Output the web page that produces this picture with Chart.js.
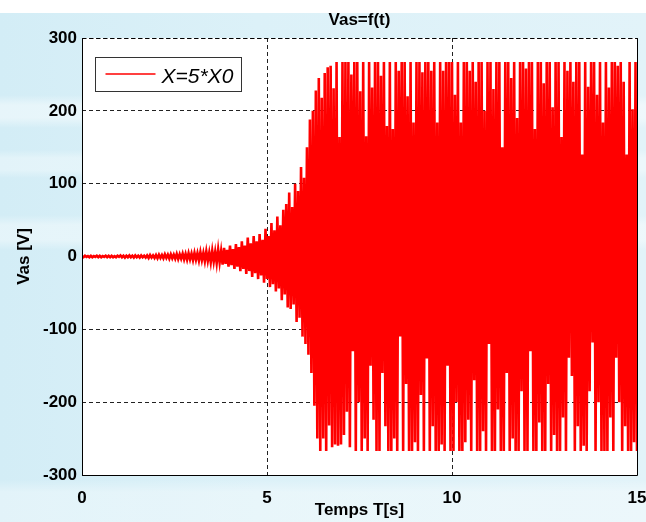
<!DOCTYPE html>
<html>
<head>
<meta charset="utf-8">
<script src="https://cdn.jsdelivr.net/npm/chart.js@4.4.1/dist/chart.umd.min.js"></script>
<style>
  html, body { margin: 0; padding: 0; }
  body {
    width: 646px; height: 522px; overflow: hidden;
    background:
      linear-gradient(to bottom, #ffffff 0, #ffffff 13px, rgba(255,255,255,0) 13px),
      linear-gradient(to bottom, rgba(255,255,255,0) 95px, rgba(255,255,255,0.45) 105px, rgba(255,255,255,0.45) 118px, rgba(255,255,255,0) 128px,
                      rgba(255,255,255,0) 150px, rgba(255,255,255,0.35) 158px, rgba(255,255,255,0.35) 170px, rgba(255,255,255,0) 178px,
                      rgba(255,255,255,0) 215px, rgba(255,255,255,0.4) 225px, rgba(255,255,255,0.4) 240px, rgba(255,255,255,0) 250px,
                      rgba(255,255,255,0) 480px, rgba(255,255,255,0.35) 492px, rgba(255,255,255,0.35) 522px),
      linear-gradient(to right, #d3edf6 0, #dcf1f8 40%, #e2f3f9 100%);
  }
  #wrap { position: relative; width: 646px; height: 522px; }
  canvas { display: block; }
</style>
</head>
<body>
<div id="wrap"><canvas id="vas" width="646" height="522"></canvas></div>
<script>
// Stator voltage Vas over time, X = 5*X0.
// Samples alternate between a positive peak and a negative peak, every sampleStep seconds.
const sampleStep = 0.04; // s
const seriesLabel = 'X=5*X0';

// positive peaks (t = 0, 0.08, 0.16, ...)
const upperPeaks = [
  0, 1, 0.5, 1, 0.5, 1, 1, 0.5, 1, 1,
  1, 0.5, 1, 1.5, 1, 1, 1.5, 1, 1.5, 1,
  1.5, 1, 1.5, 2, 1.5, 2, 2.5, 2, 3, 2.5,
  3, 2.5, 3.5, 3, 4, 3.5, 4.5, 4, 5, 4.5,
  6, 5, 7, 5.5, 8, 6.5, 9.5, 7.5, 12, 9,
  15, 10, 17, 13, 21, 15, 26, 18, 28, 21,
  31, 23, 38, 28, 46, 36, 55, 43, 64, 72,
  88, 68, 100, 90, 123, 108, 150, 188, 200, 228,
  245, 218, 252, 260, 262, 231, 267, 164, 267, 267,
  267, 250, 267, 267, 227, 267, 165, 267, 232, 267,
  267, 248, 267, 179, 267, 175, 267, 255, 267, 267,
  220, 267, 184, 267, 267, 253, 267, 267, 255, 267,
  184, 267, 255, 267, 267, 267, 222, 267, 184, 267,
  267, 255, 267, 240, 267, 267, 200, 267, 267, 230,
  267, 267, 150, 267, 267, 245, 267, 190, 267, 267,
  258, 267, 267, 175, 267, 267, 238, 267, 267, 205,
  267, 267, 164, 267, 255, 267, 240, 267, 267, 140,
  267, 233, 267, 267, 222, 267, 184, 267, 232, 267,
  267, 262, 267, 240, 140, 267, 202, 267
];

// negative peaks (t = 0.04, 0.12, 0.20, ...)
const lowerPeaks = [
  -1, -0.5, -1, -1, -0.5, -1, -1, -0.5, -1, -1,
  -1, -1, -0.5, -1, -1.5, -1, -1, -1.5, -1, -1.5,
  -1, -1.5, -2, -1.5, -2, -2.5, -2, -2.5, -2, -3,
  -2.5, -3, -3.5, -3, -4, -4.5, -4, -5, -4.5, -5.5,
  -5, -6.5, -6, -8, -7, -9, -8, -11, -10, -14,
  -12, -17, -14, -20, -17, -24, -20, -28, -23, -31,
  -26, -36, -31, -42, -38, -48, -44, -60, -52, -70,
  -72, -66, -90, -84, -110, -120, -135, -160, -205, -250,
  -267, -250, -267, -232, -262, -258, -260, -258, -245, -213,
  -262, -130, -267, -200, -267, -250, -267, -150, -224, -267,
  -267, -160, -233, -267, -267, -250, -267, -110, -267, -175,
  -267, -267, -255, -267, -190, -267, -140, -267, -233, -267,
  -267, -258, -267, -150, -267, -267, -200, -267, -267, -255,
  -224, -267, -170, -267, -267, -240, -267, -120, -267, -267,
  -210, -267, -267, -160, -267, -250, -267, -267, -185, -267,
  -267, -130, -267, -267, -228, -267, -267, -175, -267, -245,
  -267, -267, -221, -267, -139, -164, -267, -233, -267, -260,
  -267, -185, -118, -267, -200, -267, -267, -267, -221, -267,
  -139, -200, -267, -233, -267, -267, -255, -267
];

const xTickValues = [0, 5, 10, 15];
const yTickValues = [-300, -200, -100, 0, 100, 200, 300];

const chartTitle = 'Vas=f(t)';
const xTitle = 'Temps T[s]';
const yTitle = 'Vas [V]';

// interleave the peaks on the sample clock
const points = [];
const n = Math.min(upperPeaks.length, lowerPeaks.length);
for (let k = 0; k < n; k++) {
  points.push({ x: (2 * k) * sampleStep, y: upperPeaks[k] });
  points.push({ x: (2 * k + 1) * sampleStep, y: lowerPeaks[k] });
}

const FONT = '"Liberation Sans", Arial, sans-serif';

const framePlugin = {
  id: 'frame',
  beforeDraw(chart) {
    const { ctx, chartArea: a } = chart;
    ctx.save();
    ctx.fillStyle = '#ffffff';
    ctx.fillRect(a.left, a.top, a.right - a.left, a.bottom - a.top);
    ctx.restore();
  },
  afterDatasetsDraw(chart) {
    const { ctx, chartArea: a } = chart;
    const l = Math.round(a.left) + 0.5, r = Math.round(a.right) + 0.5;
    const t = Math.round(a.top) + 0.5, b = Math.round(a.bottom) + 0.5;
    ctx.save();
    ctx.strokeStyle = '#000000';
    ctx.lineWidth = 1;
    ctx.beginPath();
    ctx.moveTo(l, t); ctx.lineTo(l, b); ctx.lineTo(r, b); ctx.lineTo(r, t);
    ctx.stroke();
    ctx.setLineDash([4, 3]);
    ctx.beginPath();
    ctx.moveTo(l, t); ctx.lineTo(r, t);
    ctx.stroke();
    ctx.restore();
  },
  afterDraw(chart) {
    const { ctx, chartArea: a } = chart;
    ctx.save();
    // title
    ctx.fillStyle = '#000000';
    ctx.font = 'bold 17px ' + FONT;
    ctx.textAlign = 'center';
    ctx.textBaseline = 'middle';
    ctx.fillText(chartTitle, (a.left + a.right) / 2, 20);

    // legend box
    const bx = a.left + 13.5, by = a.top + 19.5, bw = 146, bh = 34;
    ctx.fillStyle = '#ffffff';
    ctx.fillRect(bx, by, bw, bh);
    ctx.strokeStyle = '#333333';
    ctx.lineWidth = 1;
    ctx.strokeRect(bx, by, bw, bh);
    const ds = chart.data.datasets[0];
    ctx.strokeStyle = ds.borderColor;
    ctx.lineWidth = 1.5;
    ctx.beginPath();
    ctx.moveTo(bx + 10, by + 16.5);
    ctx.lineTo(bx + 60, by + 16.5);
    ctx.stroke();
    ctx.fillStyle = '#000000';
    ctx.font = 'italic 21px ' + FONT;
    ctx.textAlign = 'left';
    ctx.textBaseline = 'alphabetic';
    ctx.fillText(ds.label, bx + 66, by + 25);
    ctx.restore();
  }
};

new Chart(document.getElementById('vas'), {
  type: 'line',
  data: {
    datasets: [{
      label: seriesLabel,
      data: points,
      borderColor: '#ff0000',
      backgroundColor: '#ff0000',
      borderWidth: 2.6,
      pointRadius: 0,
      tension: 0,
      fill: false
    }]
  },
  options: {
    responsive: false,
    animation: false,
    devicePixelRatio: 1,
    events: [],
    layout: { padding: { left: 0, right: 9, top: 38, bottom: 0 } },
    plugins: {
      legend: { display: false },
      title: { display: false },
      tooltip: { enabled: false }
    },
    scales: {
      x: {
        type: 'linear',
        min: 0, max: 15,
        afterBuildTicks(scale) { scale.ticks = xTickValues.map(v => ({ value: v })); },
        afterFit(scale) { scale.height = 47; scale.paddingLeft = 0; scale.paddingRight = 0; },
        ticks: {
          color: '#000000',
          font: { family: FONT, size: 17, weight: 'bold' },
          padding: 13,
          maxRotation: 0,
          autoSkip: false
        },
        grid: { color: '#222222', lineWidth: 1, drawTicks: false },
        border: { display: false, dash: [4, 3] },
        title: {
          display: true, text: xTitle, color: '#000000',
          font: { family: FONT, size: 17, weight: 'bold' },
          padding: { top: 0, bottom: 1 }
        }
      },
      y: {
        type: 'linear',
        min: -300, max: 300,
        afterBuildTicks(scale) { scale.ticks = yTickValues.map(v => ({ value: v })); },
        afterFit(scale) { scale.width = 82; scale.paddingTop = 0; scale.paddingBottom = 0; },
        ticks: {
          color: '#000000',
          font: { family: FONT, size: 17, weight: 'bold' },
          padding: 5,
          autoSkip: false
        },
        grid: { color: '#222222', lineWidth: 1, drawTicks: false },
        border: { display: false, dash: [4, 3] },
        title: {
          display: true, text: yTitle, color: '#000000',
          font: { family: FONT, size: 17, weight: 'bold' },
          padding: { top: 14, bottom: 0 }
        }
      }
    }
  },
  plugins: [framePlugin]
});
</script>
</body>
</html>
